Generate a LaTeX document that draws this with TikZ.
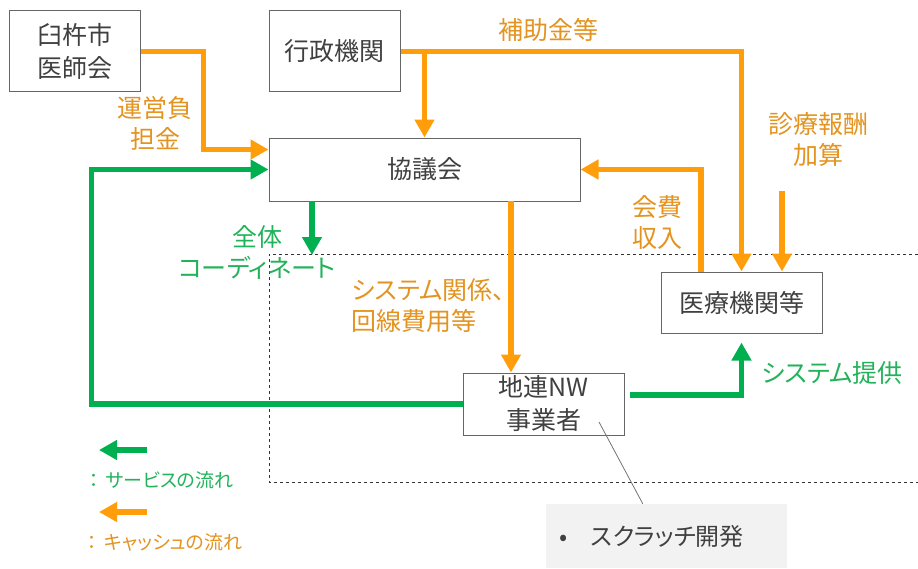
\documentclass[tikz,border=0pt]{standalone}
\usepackage{fontspec}
\setmainfont{Noto Sans CJK JP}[RawFeature=+palt]
\usepackage{xcolor}
\usepackage{tikz}
\usetikzlibrary{calc,arrows.meta}
\definecolor{boxline}{HTML}{666666}
\definecolor{boxtext}{HTML}{404040}
\definecolor{cashline}{HTML}{FF9E0A}
\definecolor{cashtext}{HTML}{E3931F}
\definecolor{svcline}{HTML}{00B050}
\definecolor{svctext}{HTML}{22B35A}
\definecolor{notebg}{HTML}{F2F2F2}
\tikzset{
  box/.style={draw=boxline, line width=1pt, text=boxtext, align=center, inner sep=0pt, font=\fontsize{25}{33}\selectfont},
  cash/.style={draw=cashline, line width=5.5pt, -{Triangle[length=18pt,width=19pt]}},
  svc/.style={draw=svcline, line width=5.5pt, -{Triangle[length=18pt,width=19pt]}},
  help/.style={draw=black!80, dashed, line width=0.6pt},
  lead/.style={draw=black!55, line width=0.8pt},
  note/.style={fill=notebg, text=boxtext, inner sep=0pt, font=\fontsize{24}{30}\selectfont},
  labc/.style={text=cashtext, align=center, font=\fontsize{25}{31}\selectfont},
  labs/.style={text=svctext, align=center, font=\fontsize{25}{31}\selectfont},
  legc/.style={text=cashtext, font=\fontsize{19}{22}\selectfont},
  legs/.style={text=svctext, font=\fontsize{19}{22}\selectfont},
}

\begin{document}
\begin{tikzpicture}[x=1pt, y=-1pt]
  \useasboundingbox (0,0) rectangle (918,568);
  \draw[help] (918,254) -- (269,254) -- (269,482) -- (918,482);

  \node[box, minimum width=131, minimum height=81] (usuki) at (74.6,51.3) {臼杵市\\医師会};
  \node[box, minimum width=131, minimum height=81] (gyosei) at (334.5,51.3) {行政機関};
  \node[box, minimum width=311, minimum height=63] (kyogikai) at (424.5,169.5) {協議会};
  \node[box, minimum width=161, minimum height=61] (iryo) at (741.5,302.5) {医療機関等};
  \node[box, minimum width=161, minimum height=62] (chiren) at (543.5,404) {地連NW\\事業者};
  \node[note, minimum width=241, minimum height=64, text width=215] (scratch) at (666.5,536) {•\quad スクラッチ開発};

  \coordinate (k-in1) at ($(kyogikai.north west)+(0,12)$);
  \coordinate (k-in2) at ($(kyogikai.north west)+(0,32)$);
  \coordinate (k-out1) at (312,201);
  \coordinate (k-out2) at (511,201);
  \coordinate (coord-end) at (312,255);
  \coordinate (fee-start) at (782,191);
  \coordinate (iryo-out) at (701,272);
  \coordinate (iryo-in) at ($(iryo.south)+(0,9)$);
  \coordinate (c-out) at (630,395);
  \coordinate (lead-top) at (599,422);
  \coordinate (lead-end) at ($(scratch.north west)+(97,0)$);

  \draw[cash] (usuki.east) -| ($(k-in1)+(-65,0)$) -- (k-in1);
  \draw[svc] (chiren.west) -- ++(-371,0) |- (k-in2);
  \draw[cash] (gyosei.east) -| (iryo.north);
  \draw[cash] (gyosei.east -| kyogikai.north) -- (kyogikai.north);
  \draw[cash] (fee-start) -- (fee-start |- iryo.north);
  \draw[cash] (iryo-out) |- (kyogikai.east);
  \draw[cash] (k-out2) -- (k-out2 |- chiren.north);
  \draw[svc] (k-out1) -- (coord-end);
  \draw[svc] (c-out) -| (iryo-in);
  \draw[lead] (lead-top) -- (lead-end);

  \node[labc] (l-unei) at (155,123) {運営負\\担金};
  \node[labc] (l-hojo) at (548,30) {補助金等};
  \node[labc] (l-shinryo) at (818,140) {診療報酬\\加算};
  \node[labc] (l-kaihi) at (657,222) {会費\\収入};
  \node[labc, align=left, anchor=west] (l-system) at (348,306) {システム関係、\\回線費用等};
  \node[labs] (l-zentai) at (257,252) {全体\\コーディネート};
  \node[labs, anchor=west] (l-teikyo) at (758,373) {システム提供};

  \coordinate (leg-s1) at (147,450);
  \coordinate (leg-s2) at (99,450);
  \coordinate (leg-c1) at (147,512);
  \coordinate (leg-c2) at (99,512);
  \draw[svc] (leg-s1) -- (leg-s2);
  \draw[cash] (leg-c1) -- (leg-c2);
  \node[legs, anchor=west] (leg-s) at (86,480) {：\hspace{7pt}サービスの流れ};
  \node[legc, anchor=west] (leg-c) at (84,542) {：\hspace{7pt}キャッシュの流れ};
\end{tikzpicture}
\end{document}
